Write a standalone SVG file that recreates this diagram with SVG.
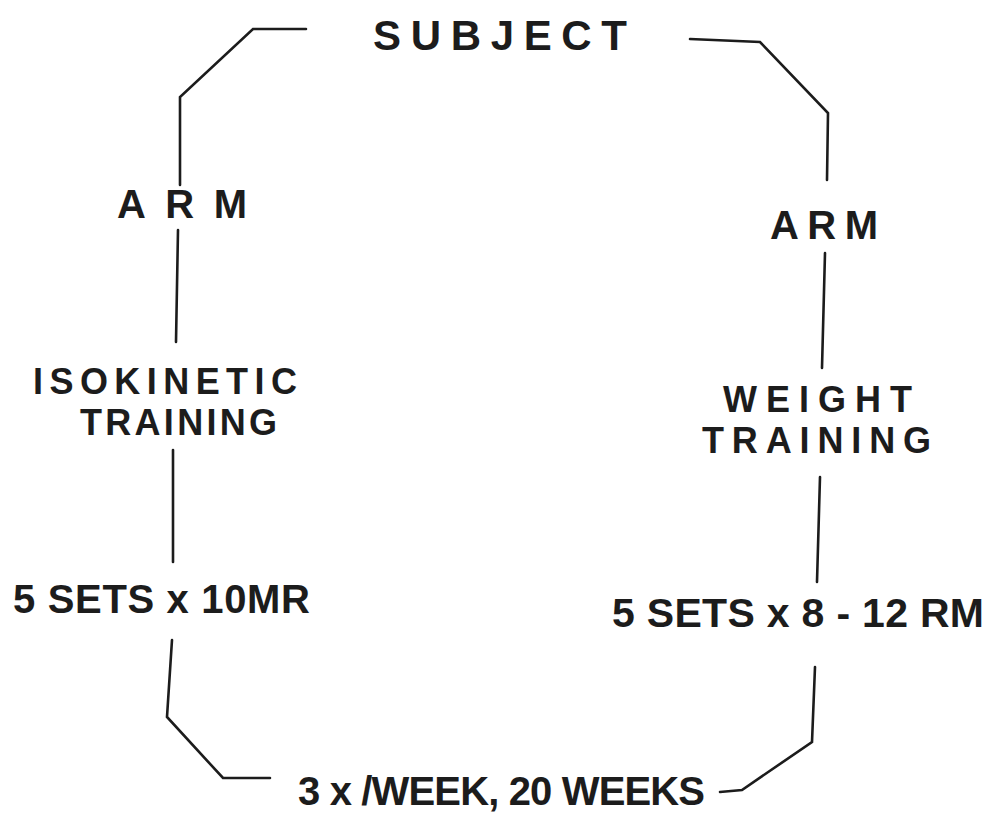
<svg xmlns="http://www.w3.org/2000/svg" width="992" height="813" viewBox="0 0 992 813">
<style>
.t{font-family:"Liberation Sans",Arial,sans-serif;font-weight:bold;fill:#1c1c1c;font-size:40px}
.p{font-size:36px}
.c{fill:none;stroke:#1c1c1c;stroke-width:2.6;stroke-linejoin:miter;stroke-linecap:round}
</style>
<rect width="992" height="813" fill="#ffffff"/>
<g id="connectors">
<polyline class="c" points="306,29 253,29 180,97 180,185"/>
<polyline class="c" points="690,39 760,42 828,113 827,180"/>
<line class="c" x1="178" y1="230" x2="176" y2="342"/>
<line class="c" x1="825" y1="253" x2="822" y2="368"/>
<line class="c" x1="173" y1="450" x2="173" y2="562"/>
<line class="c" x1="820" y1="477" x2="817" y2="582"/>
<polyline class="c" points="172,640 167,717 223,778 270,778"/>
<polyline class="c" points="815,667 812,742 742,790 720,792"/>
</g>
<g id="subject"><text class="t" x="373" y="50" style="font-size:42px" textLength="254" lengthAdjust="spacing">SUBJECT</text></g>
<g id="arm-left"><text class="t" x="117" y="218" textLength="130" lengthAdjust="spacing">ARM</text></g>
<g id="arm-right"><text class="t" x="770" y="239" textLength="108" lengthAdjust="spacing">ARM</text></g>
<g id="isokinetic-training">
<text class="t p" x="33" y="394" textLength="264" lengthAdjust="spacing">ISOKINETIC</text>
<text class="t p" x="80" y="435" textLength="197" lengthAdjust="spacing">TRAINING</text>
</g>
<g id="weight-training">
<text class="t p" x="723" y="412" textLength="189" lengthAdjust="spacing">WEIGHT</text>
<text class="t p" x="702" y="453" textLength="229" lengthAdjust="spacing">TRAINING</text>
</g>
<g id="sets-left"><text class="t" x="13" y="613" textLength="297" lengthAdjust="spacing">5 SETS x 10MR</text></g>
<g id="sets-right"><text class="t" x="612" y="627" style="font-size:41px" textLength="372" lengthAdjust="spacing">5 SETS x 8 - 12 RM</text></g>
<g id="schedule"><text class="t" x="298" y="805" textLength="407" lengthAdjust="spacing">3 x /WEEK, 20 WEEKS</text></g>
</svg>
